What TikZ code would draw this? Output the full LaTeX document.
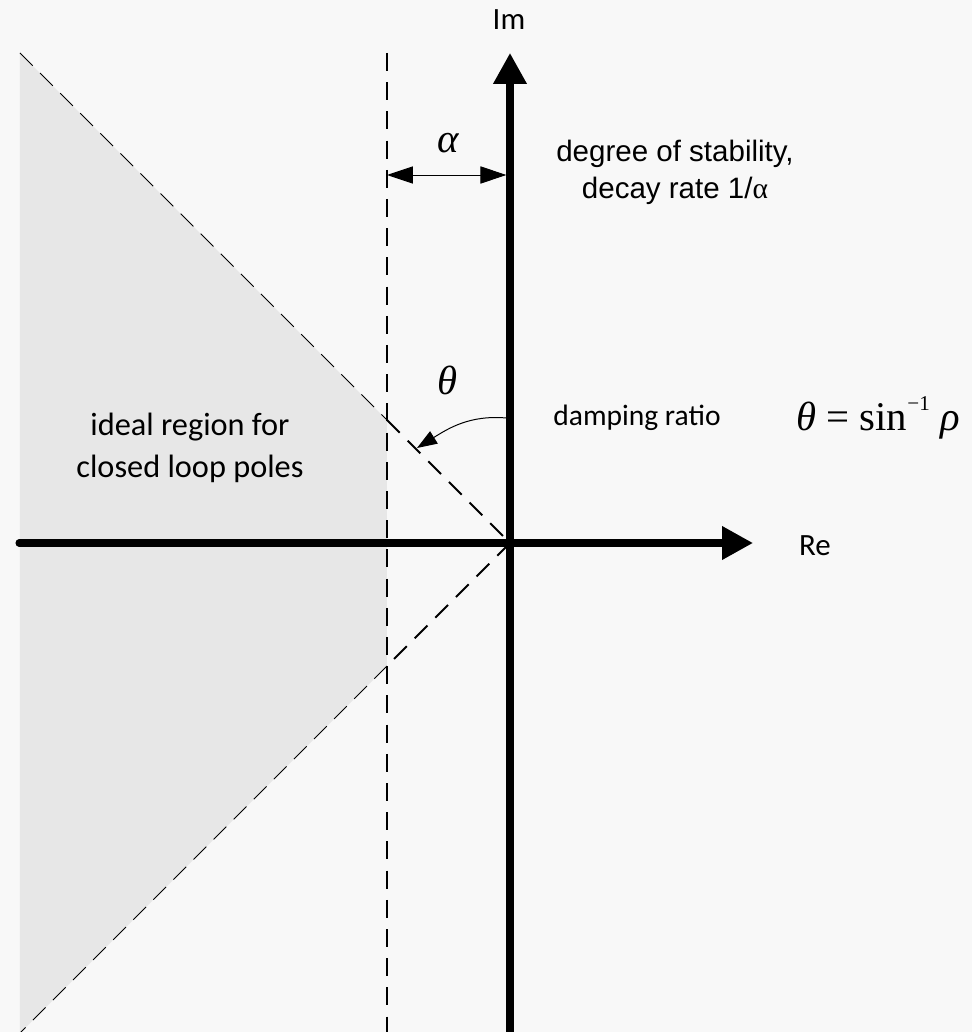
\documentclass[tikz,border=0pt]{standalone}
\usepackage{fontspec}
\setmainfont{Carlito}
\newfontfamily\arialfont{Liberation Sans}
\newfontfamily\timesfont{Liberation Serif}
\usetikzlibrary{arrows.meta, positioning, calc}
\definecolor{bgcol}{HTML}{F8F8F8}
\definecolor{regioncol}{HTML}{E7E7E7}

\begin{document}
\begin{tikzpicture}[
  axis/.style={line width=5pt, -{Triangle[length=7.75mm, width=8mm]}},
  guide/.style={line width=1.3pt, dash pattern=on 4.5mm off 2.8mm},
  thinguide/.style={line width=0.7pt, dash pattern=on 4.5mm off 2.6mm},
  dim/.style={line width=0.7pt, {Triangle[length=6.5mm, width=4.3mm]}-{Triangle[length=6.5mm, width=4.3mm]}},
  bendarrow/.style={line width=0.7pt, -{Triangle[length=5mm, width=3.6mm]}},
  txt/.style={inner sep=0pt, align=center}]
  \useasboundingbox[fill=bgcol] (-12.75,-12.225) rectangle (11.55,13.575);
  \coordinate (o)  at (0,0);
  \coordinate (ul) at (-12.25,12.25);
  \coordinate (ll) at (-12.25,-12.25);
  \coordinate (vt) at (-3.075,12.25);
  \coordinate (vb) at (-3.075,-12.225);
  \coordinate (vu) at (-3.075,3.075);
  \coordinate (vd) at (-3.075,-3.075);
  \coordinate (rel) at (-12.275,0);
  \coordinate (ret) at (6.075,0);
  \coordinate (imb) at (0,-12.3);
  \coordinate (imt) at (0,12.25);
  \coordinate (al) at (-3.075,9.2);
  \coordinate (ar) at (-0.09,9.2);
  \coordinate (ths) at (-0.09,3.125);
  \coordinate (the) at (-2.325,2.375);
  \fill[regioncol] (ul) -- (vu) -- (vd) -- (ll) -- cycle;
  \draw[thinguide] (ul) -- (vu);
  \draw[guide] (vu) -- (o);
  \draw[guide] (o) -- (vd);
  \draw[thinguide] (vd) -- (ll);
  \draw[guide] (vt) -- (vb);
  \draw[axis, line cap=round] (rel) -- (ret);
  \draw[axis] (imb) -- (imt);
  \draw[dim] (al) -- (ar);
  \draw[bendarrow] (ths) to[out=175, in=32] (the);
  \node[txt, font=\fontsize{22pt}{22pt}\selectfont] (im) at (-0.025,13.075) {Im};
  \node[txt, font=\fontsize{22pt}{22pt}\selectfont] (re) at (7.625,-0.075) {Re};
  \node[txt, font=\timesfont\itshape\fontsize{29pt}{29pt}\selectfont] (alpha) at (-1.55,10.0) {α};
  \node[txt, font=\timesfont\itshape\fontsize{29pt}{29pt}\selectfont] (theta) at (-1.55,4.075) {θ};
  \node[txt, font=\arialfont\fontsize{21pt}{26.3pt}\selectfont] (decay) at (4.125,9.275) {degree of stability,\\decay rate 1/{\timesfont α}};
  \node[txt, font=\fontsize{21pt}{21pt}\selectfont] (damp) at (3.175,3.125) {damping ratio};
  \node[txt, font=\timesfont\fontsize{29pt}{29pt}\selectfont] (formula) at (9.2,3.125) {\itshape θ\upshape\ =\ sin\raisebox{1.1ex}{\fontsize{15pt}{15pt}\selectfont −1}\ \itshape ρ};
  \node[txt, font=\fontsize{23pt}{30pt}\selectfont] (region) at (-8.0,2.375) {ideal region for\\closed loop poles};
\end{tikzpicture}
\end{document}
